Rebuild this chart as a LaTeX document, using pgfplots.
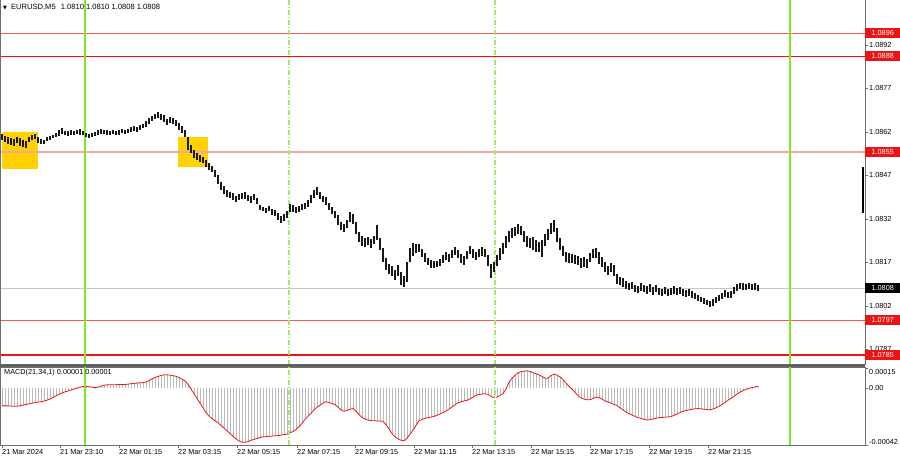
\documentclass[border=0pt]{standalone}
\usepackage{fontspec}
\setmainfont{Liberation Sans}
\newfontfamily\symfont{DejaVu Sans}
\usepackage{pgfplots}
\usepackage{pgfplotstable}
\pgfplotsset{compat=1.18}

\definecolor{mtgreen}{RGB}{130,230,40}
\definecolor{mtgreenlt}{RGB}{165,232,110}
\definecolor{mtred}{RGB}{235,20,20}
\definecolor{mtredlt}{RGB}{240,90,90}
\definecolor{mtpink}{RGB}{245,165,165}
\definecolor{mtyellow}{RGB}{255,210,0}
\definecolor{mtframe}{RGB}{110,110,110}
\definecolor{histgray}{RGB}{185,185,185}

\newcommand{\lblfont}{\fontsize{7.3}{8}\selectfont}

% x = bar position, hi/lo = bar high/low, m = MACD(21,34,1)
\pgfplotstableread{
x hi lo m
2 1.08612 1.08591 -0.000130
5 1.08605 1.08585 -0.000130
8 1.08602 1.08578 -0.000130
11 1.08598 1.08574 -0.000132
14 1.08595 1.08571 -0.000133
17 1.08602 1.08581 -0.000132
20 1.08598 1.08571 -0.000130
23 1.08591 1.08567 -0.000125
26 1.08588 1.08564 -0.000120
29 1.08602 1.08585 -0.000115
32 1.08609 1.08591 -0.000110
35 1.08612 1.08595 -0.000106
38 1.08602 1.08581 -0.000102
41 1.08595 1.08578 -0.000100
44 1.08591 1.08578 -0.000095
47 1.08602 1.08588 -0.000088
50 1.08605 1.08591 -0.000080
53 1.08609 1.08598 -0.000068
56 1.08616 1.08602 -0.000056
59 1.08626 1.08605 -0.000044
62 1.08633 1.08612 -0.000035
65 1.08622 1.08609 -0.000026
68 1.08622 1.08605 -0.000020
71 1.08626 1.08609 -0.000013
74 1.08622 1.08609 -0.000005
77 1.08626 1.08612 0.000002
80 1.08629 1.08609 0.000008
83 1.08622 1.08609 0.000013
86 1.08616 1.08602 0.000015
89 1.08612 1.08598 0.000012
92 1.08616 1.08602 0.000008
95 1.08619 1.08605 0.000006
98 1.08626 1.08609 0.000008
101 1.08629 1.08612 0.000016
104 1.08626 1.08612 0.000023
107 1.08626 1.08609 0.000026
110 1.08622 1.08609 0.000027
113 1.08626 1.08612 0.000027
116 1.08622 1.08609 0.000027
119 1.08626 1.08609 0.000028
122 1.08629 1.08616 0.000028
125 1.08626 1.08612 0.000028
128 1.08629 1.08616 0.000031
131 1.08636 1.08619 0.000034
134 1.08640 1.08622 0.000037
137 1.08636 1.08619 0.000039
140 1.08643 1.08626 0.000041
143 1.08647 1.08633 0.000042
146 1.08657 1.08636 0.000047
149 1.08667 1.08647 0.000058
152 1.08674 1.08657 0.000070
155 1.08681 1.08664 0.000080
158 1.08688 1.08667 0.000088
161 1.08681 1.08660 0.000095
164 1.08678 1.08653 0.000100
167 1.08664 1.08643 0.000100
170 1.08671 1.08650 0.000098
173 1.08667 1.08647 0.000094
176 1.08660 1.08640 0.000089
179 1.08650 1.08626 0.000080
182 1.08640 1.08616 0.000068
185 1.08626 1.08602 0.000055
188 1.08602 1.08557 0.000030
191 1.08574 1.08547 -0.000005
194 1.08557 1.08529 -0.000040
197 1.08547 1.08522 -0.000075
200 1.08540 1.08516 -0.000110
203 1.08533 1.08512 -0.000145
206 1.08522 1.08498 -0.000180
209 1.08512 1.08488 -0.000205
212 1.08502 1.08481 -0.000225
215 1.08488 1.08464 -0.000240
218 1.08471 1.08440 -0.000255
221 1.08447 1.08419 -0.000275
224 1.08433 1.08405 -0.000295
227 1.08419 1.08395 -0.000315
230 1.08412 1.08391 -0.000335
233 1.08409 1.08385 -0.000355
236 1.08398 1.08378 -0.000375
239 1.08405 1.08385 -0.000390
242 1.08409 1.08388 -0.000400
245 1.08412 1.08388 -0.000400
248 1.08402 1.08381 -0.000395
251 1.08398 1.08374 -0.000386
254 1.08405 1.08385 -0.000378
257 1.08391 1.08371 -0.000372
260 1.08367 1.08350 -0.000365
263 1.08360 1.08347 -0.000360
266 1.08357 1.08340 -0.000358
269 1.08364 1.08347 -0.000356
272 1.08354 1.08333 -0.000354
275 1.08350 1.08329 -0.000352
278 1.08340 1.08316 -0.000350
281 1.08329 1.08305 -0.000347
284 1.08336 1.08312 -0.000343
287 1.08347 1.08322 -0.000340
290 1.08371 1.08343 -0.000330
293 1.08367 1.08343 -0.000320
296 1.08360 1.08340 -0.000305
299 1.08364 1.08343 -0.000285
302 1.08371 1.08350 -0.000260
305 1.08374 1.08354 -0.000230
308 1.08385 1.08360 -0.000208
311 1.08402 1.08374 -0.000185
314 1.08419 1.08391 -0.000160
317 1.08430 1.08402 -0.000140
320 1.08412 1.08388 -0.000125
323 1.08398 1.08378 -0.000110
326 1.08395 1.08367 -0.000100
329 1.08374 1.08350 -0.000105
332 1.08360 1.08336 -0.000113
335 1.08347 1.08322 -0.000120
338 1.08333 1.08298 -0.000140
341 1.08309 1.08281 -0.000160
344 1.08302 1.08274 -0.000170
347 1.08316 1.08288 -0.000165
350 1.08343 1.08309 -0.000155
353 1.08336 1.08302 -0.000150
356 1.08309 1.08267 -0.000170
359 1.08274 1.08240 -0.000195
362 1.08260 1.08226 -0.000215
365 1.08254 1.08222 -0.000228
368 1.08257 1.08229 -0.000235
371 1.08250 1.08219 -0.000240
374 1.08260 1.08233 -0.000240
377 1.08298 1.08247 -0.000242
380 1.08254 1.08212 -0.000243
383 1.08219 1.08171 -0.000245
386 1.08185 1.08143 -0.000270
389 1.08164 1.08130 -0.000300
392 1.08157 1.08123 -0.000335
395 1.08143 1.08109 -0.000360
398 1.08161 1.08123 -0.000375
401 1.08136 1.08092 -0.000385
404 1.08123 1.08085 -0.000390
407 1.08171 1.08102 -0.000370
410 1.08219 1.08171 -0.000340
413 1.08236 1.08192 -0.000310
416 1.08233 1.08202 -0.000275
419 1.08233 1.08205 -0.000240
422 1.08216 1.08188 -0.000230
425 1.08202 1.08171 -0.000223
428 1.08185 1.08161 -0.000218
431 1.08178 1.08150 -0.000213
434 1.08174 1.08150 -0.000208
437 1.08174 1.08154 -0.000200
440 1.08181 1.08157 -0.000190
443 1.08195 1.08168 -0.000180
446 1.08205 1.08178 -0.000168
449 1.08198 1.08171 -0.000154
452 1.08212 1.08185 -0.000138
455 1.08222 1.08195 -0.000122
458 1.08212 1.08185 -0.000108
461 1.08198 1.08168 -0.000100
464 1.08192 1.08161 -0.000093
467 1.08209 1.08181 -0.000090
470 1.08226 1.08198 -0.000078
473 1.08216 1.08185 -0.000065
476 1.08205 1.08178 -0.000052
479 1.08216 1.08188 -0.000046
482 1.08222 1.08192 -0.000043
485 1.08216 1.08188 -0.000040
488 1.08195 1.08157 -0.000045
491 1.08164 1.08116 -0.000060
494 1.08171 1.08136 -0.000070
497 1.08195 1.08157 -0.000065
500 1.08219 1.08178 -0.000053
503 1.08236 1.08198 -0.000040
506 1.08260 1.08219 -0.000005
509 1.08278 1.08240 0.000045
512 1.08288 1.08254 0.000075
515 1.08291 1.08260 0.000095
518 1.08302 1.08267 0.000115
521 1.08295 1.08264 0.000123
524 1.08278 1.08240 0.000127
527 1.08260 1.08222 0.000130
530 1.08254 1.08219 0.000125
533 1.08257 1.08212 0.000116
536 1.08247 1.08205 0.000108
539 1.08240 1.08205 0.000100
542 1.08247 1.08188 0.000088
545 1.08267 1.08226 0.000075
548 1.08284 1.08247 0.000075
551 1.08305 1.08267 0.000095
554 1.08316 1.08274 0.000105
557 1.08288 1.08240 0.000098
560 1.08254 1.08212 0.000085
563 1.08226 1.08192 0.000065
566 1.08205 1.08171 0.000040
569 1.08202 1.08168 0.000015
572 1.08198 1.08168 -0.000005
575 1.08195 1.08164 -0.000030
578 1.08192 1.08161 -0.000055
581 1.08185 1.08150 -0.000070
584 1.08188 1.08154 -0.000080
587 1.08181 1.08150 -0.000085
590 1.08202 1.08171 -0.000085
593 1.08216 1.08185 -0.000075
596 1.08219 1.08185 -0.000066
599 1.08205 1.08164 -0.000068
602 1.08188 1.08154 -0.000080
605 1.08171 1.08136 -0.000093
608 1.08157 1.08126 -0.000102
611 1.08168 1.08136 -0.000110
614 1.08161 1.08123 -0.000120
617 1.08130 1.08095 -0.000128
620 1.08119 1.08092 -0.000145
623 1.08116 1.08085 -0.000160
626 1.08106 1.08078 -0.000176
629 1.08099 1.08074 -0.000188
632 1.08102 1.08078 -0.000198
635 1.08092 1.08068 -0.000208
638 1.08088 1.08064 -0.000217
641 1.08099 1.08071 -0.000223
644 1.08092 1.08068 -0.000230
647 1.08088 1.08061 -0.000235
650 1.08095 1.08068 -0.000232
653 1.08085 1.08057 -0.000227
656 1.08092 1.08068 -0.000222
659 1.08081 1.08057 -0.000218
662 1.08078 1.08054 -0.000216
665 1.08085 1.08061 -0.000214
668 1.08078 1.08054 -0.000212
671 1.08081 1.08057 -0.000210
674 1.08088 1.08061 -0.000200
677 1.08081 1.08057 -0.000190
680 1.08085 1.08061 -0.000180
683 1.08078 1.08054 -0.000170
686 1.08074 1.08050 -0.000165
689 1.08078 1.08054 -0.000160
692 1.08071 1.08047 -0.000155
695 1.08064 1.08043 -0.000152
698 1.08057 1.08037 -0.000150
701 1.08050 1.08033 -0.000152
704 1.08047 1.08026 -0.000155
707 1.08040 1.08023 -0.000158
710 1.08037 1.08016 -0.000160
713 1.08043 1.08019 -0.000153
716 1.08050 1.08030 -0.000145
719 1.08057 1.08037 -0.000134
722 1.08064 1.08043 -0.000120
725 1.08074 1.08050 -0.000105
728 1.08068 1.08047 -0.000088
731 1.08071 1.08047 -0.000075
734 1.08085 1.08061 -0.000060
737 1.08095 1.08071 -0.000043
740 1.08099 1.08078 -0.000028
743 1.08099 1.08074 -0.000018
746 1.08095 1.08074 -0.000008
749 1.08099 1.08078 0.000000
752 1.08095 1.08074 0.000006
755 1.08099 1.08074 0.000011
758 1.08092 1.08071 0.000015
}\bars

\begin{document}
\begin{tikzpicture}
\useasboundingbox (0pt,0pt) rectangle (900pt,460pt);

% ---- price panel: prices are plotted in points (1e-5) above 1.0780,
% which keeps the axis' inner numbers small (axis cs below uses these units)
\begin{axis}[
  at={(0pt,95pt)}, anchor=south west, scale only axis,
  width=865pt, height=365pt,
  y filter/.expression={(y-1.078)*100000},
  xmin=0, xmax=865, ymin=16, ymax=1274,
  xtick=\empty,
  ytick={1120,970,820,670,520,370,220,70},
  yticklabels={1.0892,1.0877,1.0862,1.0847,1.0832,1.0817,1.0802,1.0787},
  scaled y ticks=false,
  ytick pos=right, yticklabel pos=right,
  tick align=outside, major tick length=3pt,
  tick style={mtframe},
  yticklabel style={font=\lblfont, inner sep=1pt},
  separate axis lines,
  axis line style={mtframe},
  x axis line style={draw=none},
  clip mode=individual,
]
  \addplot[fill=mtyellow, draw=none, forget plot] coordinates {(2,1.08619)(38,1.08619)(38,1.08491)(2,1.08491)} -- cycle;
  \addplot[fill=mtyellow, draw=none, forget plot] coordinates {(178,1.08602)(208,1.08602)(208,1.08498)(178,1.08498)} -- cycle;

  \addplot[mtredlt, line width=0.9pt] coordinates {(0,1.0896)(865,1.0896)};
  \addplot[mtred, line width=1.5pt] coordinates {(0,1.0888)(865,1.0888)};
  \addplot[mtpink, line width=2pt] coordinates {(0,1.0855)(865,1.0855)};
  \addplot[black!22, line width=0.8pt] coordinates {(0,1.0808)(865,1.0808)};
  \addplot[mtredlt, line width=0.9pt] coordinates {(0,1.0797)(865,1.0797)};
  \addplot[mtred, line width=1.4pt] coordinates {(0,1.0785)(865,1.0785)};

  \addplot[mtgreen, line width=1.5pt] coordinates {(85,1.07816)(85,1.09074)};
  \addplot[mtgreen, line width=1.5pt] coordinates {(790,1.07816)(790,1.09074)};
  \addplot[mtgreenlt, line width=1.1pt, dash pattern=on 5pt off 2pt on 1pt off 2pt] coordinates {(289,1.07816)(289,1.09074)};
  \addplot[mtgreenlt, line width=1.1pt, dash pattern=on 5pt off 2pt on 1pt off 2pt] coordinates {(495,1.07816)(495,1.09074)};

  % high-low bars: from the low, up by (high - low) in points
  \addplot[draw=none, mark=none,
    error bars/.cd, y dir=plus, y explicit, error mark=none,
    error bar style={draw=black!90, line width=1.1pt, solid}]
    table[x=x, y=lo, y error plus expr=(\thisrow{hi}-\thisrow{lo})*100000] {\bars};
  \addplot[draw=none, mark=none,
    error bars/.cd, y dir=plus, y explicit, error mark=none,
    error bar style={draw=black, line width=2pt, solid}]
    coordinates {(863,1.08340) +- (0,158)};

  \begin{scope}[every node/.style={anchor=west, font=\lblfont, text=white, inner sep=0pt,
      minimum width=35pt, minimum height=10pt}]
    \node[fill=mtred] at (axis cs:865,1160) {1.0896};
    \node[fill=mtred] at (axis cs:865,1080) {1.0888};
    \node[fill=mtred] at (axis cs:865,750) {1.0855};
    \node[fill=black] at (axis cs:865,280) {1.0808};
    \node[fill=mtred] at (axis cs:865,170) {1.0797};
    \node[fill=mtred] at (axis cs:865,50) {1.0785};
  \end{scope}
\end{axis}
\draw[mtframe] (0.4pt,95pt) -- (0.4pt,460pt);

% ---- MACD panel, plotted in units of 0.00001
\begin{axis}[
  at={(0pt,15pt)}, anchor=south west, scale only axis,
  width=865pt, height=78pt,
  y filter/.expression={y*100000},
  xmin=0, xmax=865, ymin=-42, ymax=15.8,
  xtick={2,60,119,178,237,297,355,414,472,531,590,649,708},
  xticklabels={21 Mar 2024,21 Mar 23:10,22 Mar 01:15,22 Mar 03:15,22 Mar 05:15,22 Mar 07:15,22 Mar 09:15,22 Mar 11:15,22 Mar 13:15,22 Mar 15:15,22 Mar 17:15,22 Mar 19:15,22 Mar 21:15},
  xtick pos=bottom,
  xticklabel style={font=\lblfont, anchor=north west, inner sep=1pt, xshift=-1pt},
  ytick={-42,0,15},
  yticklabels={-0.00042,0.00,0.00015},
  scaled y ticks=false,
  ytick pos=right, yticklabel pos=right,
  yticklabel style={font=\lblfont, inner sep=1pt,
    yshift={ifthenelse(\ticknum==0,3,ifthenelse(\ticknum==2,-4,0))}},
  tick align=outside, major tick length=3pt,
  tick style={mtframe},
  axis line style={mtframe},
  clip mode=individual,
]
  \addplot[ycomb, histgray, line width=0.9pt, mark=none] table[x=x, y=m] {\bars};
  \addplot[mtred, line width=0.8pt, mark=none] table[x=x, y=m] {\bars};

  \addplot[mtgreen, line width=1.5pt] coordinates {(85,-0.00042)(85,0.000158)};
  \addplot[mtgreen, line width=1.5pt] coordinates {(790,-0.00042)(790,0.000158)};
  \addplot[mtgreenlt, line width=1.1pt, dash pattern=on 5pt off 2pt on 1pt off 2pt] coordinates {(289,-0.00042)(289,0.000158)};
  \addplot[mtgreenlt, line width=1.1pt, dash pattern=on 5pt off 2pt on 1pt off 2pt] coordinates {(495,-0.00042)(495,0.000158)};
\end{axis}

% panel separator and captions
\fill[black!62] (0pt,93pt) rectangle (865pt,95.5pt);
\node[anchor=west, font=\fontsize{7.6}{8}\selectfont, inner sep=0pt] at (3pt,453pt)
  {{\symfont\fontsize{5}{5}\selectfont ▼}\hspace{4pt}EURUSD,M5\hspace{5pt}1.0810 1.0810 1.0808 1.0808};
\node[anchor=west, font=\lblfont, inner sep=0pt] at (4pt,87pt) {MACD(21,34,1) 0.00001 0.00001};
\end{tikzpicture}
\end{document}
